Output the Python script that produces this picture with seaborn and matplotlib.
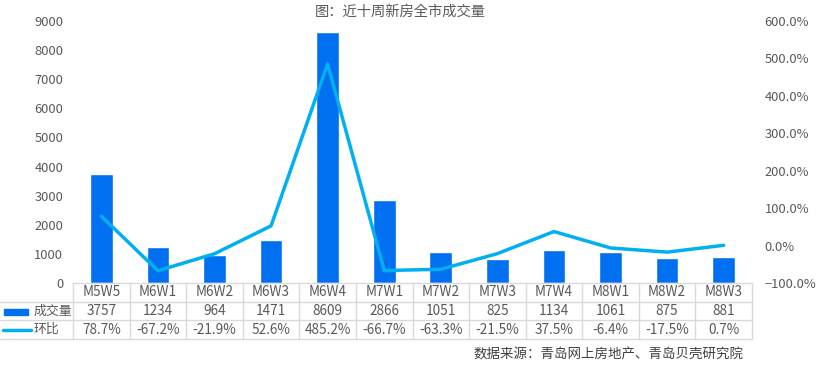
import numpy as np
import pandas as pd
import matplotlib
matplotlib.use('Agg')
import matplotlib.pyplot as plt
import seaborn as sns
from matplotlib.lines import Line2D
from matplotlib.patches import Rectangle
from matplotlib.ticker import PercentFormatter
from matplotlib.transforms import blended_transform_factory

# 数据
weeks = ['M5W5', 'M6W1', 'M6W2', 'M6W3', 'M6W4', 'M7W1',
         'M7W2', 'M7W3', 'M7W4', 'M8W1', 'M8W2', 'M8W3']
volume = [3757, 1234, 964, 1471, 8609, 2866, 1051, 825, 1134, 1061, 875, 881]
mom = [78.7, -67.2, -21.9, 52.6, 485.2, -66.7, -63.3, -21.5, 37.5, -6.4, -17.5, 0.7]
mom_labels = [f'{v:.1f}%' for v in mom]

df = pd.DataFrame({'周': weeks, '成交量': volume, '环比': np.array(mom) / 100})

sns.set_theme(style='white')
plt.rcParams['font.family'] = ['Noto Sans CJK SC', 'DejaVu Sans']

bar_color = '#0070F0'
line_color = '#00B0F0'
text_color = '#595959'
grid_color = '#D9D9D9'

W, H = 818, 368
fig = plt.figure(figsize=(W / 100, H / 100), dpi=100)
ax = fig.add_axes([73 / W, 85 / H, 679 / W, 262 / H])

sns.barplot(data=df, x='周', y='成交量', color=bar_color, saturation=1, width=0.4, ax=ax)
ax.set_ylim(0, 9000)
ax.set_yticks(range(0, 9001, 1000))
ax.set_xticks([])
ax.set_xlabel('')
ax.set_ylabel('')
ax.tick_params(axis='y', length=0, pad=7, labelsize=9.3, labelcolor=text_color)
for s in ax.spines.values():
    s.set_visible(False)

ax2 = ax.twinx()
sns.lineplot(x=np.arange(len(weeks)), y=df['环比'], color=line_color, linewidth=2.5, ax=ax2)
ax2.set_ylim(-1, 6)
ax2.set_yticks(np.arange(-1, 6.01, 1))
ax2.yaxis.set_major_formatter(PercentFormatter(xmax=1, decimals=1))
ax2.set_ylabel('')
ax2.tick_params(axis='y', length=0, pad=9, labelsize=9.3, labelcolor=text_color)
for s in ax2.spines.values():
    s.set_visible(False)
ax.set_xlim(-0.5, len(weeks) - 0.5)
ax2.set_xlim(-0.5, len(weeks) - 0.5)

# 数据表
def fy(py):
    return 1 - py / H

tr = blended_transform_factory(ax.transData, fig.transFigure)
x_right = ax.get_position().x1
x_left_tab = ax.get_position().x0
rows_y = [283, 302, 320, 339]

# 横线
fig.add_artist(Line2D([x_left_tab, x_right], [fy(283)] * 2, transform=fig.transFigure,
                      color=grid_color, lw=1))
for py in rows_y[1:]:
    fig.add_artist(Line2D([0, x_right], [fy(py)] * 2, transform=fig.transFigure,
                          color=grid_color, lw=1))
# 竖线
for i in range(len(weeks) + 1):
    fig.add_artist(Line2D([i - 0.5, i - 0.5], [fy(283), fy(339)], transform=tr,
                          color=grid_color, lw=1))

for i, (wk, v, m) in enumerate(zip(weeks, volume, mom_labels)):
    fig.text(i, fy(292.5), wk, transform=tr, ha='center', va='center',
             fontsize=9.8, color=text_color)
    fig.text(i, fy(311), str(v), transform=tr, ha='center', va='center',
             fontsize=9.8, color=text_color)
    fig.text(i, fy(329.5), m, transform=tr, ha='center', va='center',
             fontsize=9.8, color=text_color)

# 行标签与图例
fig.add_artist(Rectangle((4 / W, fy(315)), 24 / W, 6 / H, transform=fig.transFigure,
                         color=bar_color))
fig.add_artist(Line2D([3 / W, 31 / W], [fy(330)] * 2, transform=fig.transFigure,
                      color=line_color, lw=2.5))
fig.text(34 / W, fy(311), '成交量', ha='left', va='center', fontsize=9.3, color=text_color)
fig.text(34 / W, fy(329.5), '环比', ha='left', va='center', fontsize=9.3, color=text_color)

fig.text(400 / W, fy(12), '图：近十周新房全市成交量', ha='center', va='center',
         fontsize=10.3, color=text_color)
fig.text(743 / W, fy(355), '数据来源：青岛网上房地产、青岛贝壳研究院', ha='right', va='center',
         fontsize=9.7, color='#404040')

fig.savefig('out.png', dpi=100)
